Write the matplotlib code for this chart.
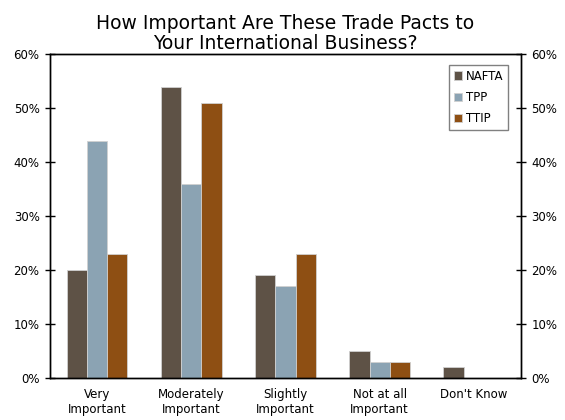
import matplotlib
matplotlib.use('Agg')
import matplotlib.pyplot as plt
import numpy as np
from matplotlib.ticker import PercentFormatter

categories = ['Very\nImportant', 'Moderately\nImportant', 'Slightly\nImportant', 'Not at all\nImportant', "Don't Know"]
nafta = [20, 54, 19, 5, 2]
tpp = [44, 36, 17, 3, 0]
ttip = [23, 51, 23, 3, 0]

colors = ['#5E5246', '#8BA3B3', '#8E4F13']
plt.rcParams['font.family'] = ['DejaVu Sans']

fig = plt.figure(figsize=(5.65, 4.2), dpi=100)
ax = fig.add_axes([0.0885, 0.1, 0.8335, 0.771])

x = np.arange(len(categories))
w = 0.215
for i, (vals, name) in enumerate([(nafta, 'NAFTA'), (tpp, 'TPP'), (ttip, 'TTIP')]):
    ax.bar(x + (i - 1) * w, vals, w, color=colors[i], edgecolor='#d0d0d0', linewidth=0.6, label=name)

ax.set_xlim(-0.5, len(categories) - 0.5)
ax.set_ylim(0, 60)
ax.set_yticks(range(0, 61, 10))
ax.yaxis.set_major_formatter(PercentFormatter(decimals=0))
ax.set_xticks(x)
ax.set_xticklabels(categories, fontsize=8.5)
ax.tick_params(axis='x', length=0, pad=7)
ax.tick_params(axis='y', direction='inout', length=7, labelsize=8.5, width=1, pad=4)
for s in ax.spines.values():
    s.set_linewidth(1.0)

ax2 = ax.twinx()
ax2.set_ylim(0, 60)
ax2.set_yticks(range(0, 61, 10))
ax2.yaxis.set_major_formatter(PercentFormatter(decimals=0))
ax2.tick_params(axis='y', direction='inout', length=7, labelsize=8.5, width=1, pad=4)
for s in ax2.spines.values():
    s.set_linewidth(1.0)

ax.set_title('How Important Are These Trade Pacts to\nYour International Business?', fontsize=13.5, pad=4, linespacing=1.05)

leg = ax.legend(loc='upper right', bbox_to_anchor=(0.985, 0.985), fontsize=8.5, handlelength=0.7,
                handleheight=0.7, handletextpad=0.3, fancybox=False, framealpha=1,
                edgecolor='#808080', borderpad=0.4, labelspacing=0.7)
leg.get_frame().set_linewidth(1)

fig.savefig('out.png', dpi=100)
